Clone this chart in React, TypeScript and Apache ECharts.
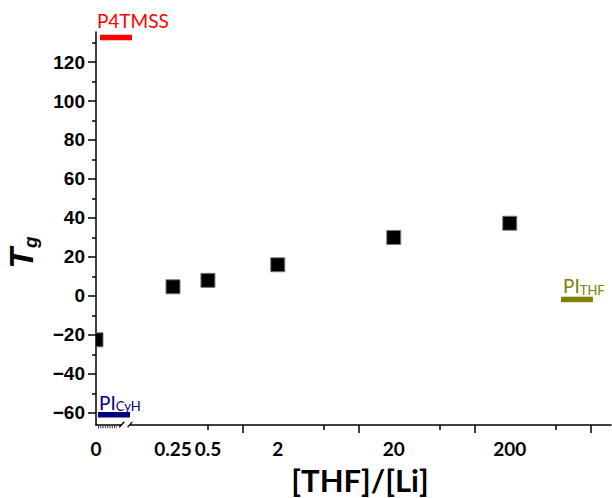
import React, { useEffect, useRef } from "react";
import * as echarts from "echarts";

// ---------------- data ----------------
const ratioLabels = ["0", "0.25", "0.5", "2", "20", "200"];
const ratioValues = [0, 0.25, 0.5, 2, 20, 200];
const tgValues = [-22.5, 4.7, 8, 16, 30, 37.3];

const xMajorTickRatios = [1, 10, 100, 1000];
const xMinorTickRatios = [0.5, 5, 50, 500];

const yMajorTicks = [-60, -40, -20, 0, 20, 40, 60, 80, 100, 120];
const yMinorTicks = [-50, -30, -10, 10, 30, 50, 70, 90, 110, 130];

// reference polymers (Tg of homopolymers)
const refNames = ["P4TMSS", "PI", "PI"];
const refSubs = ["", "CyH", "THF"];
const refTg = [132.6, -61, -1.8];

// ---------------- layout ----------------
const X_MIN = -1.266; // log10 position of the broken "0" origin
const X_MAX = 3.174;
const Y_MIN = -66.2;
const Y_MAX = 135.4;
const refSpanStart = [-1.232, -1.249, 2.743];
const refSpanEnd = [-0.956, -0.973, 3.018];
const refColors = ["#ff0000", "#000080", "#808000"];

const toPos = (v: number) => (v === 0 ? X_MIN : Math.log10(v));

export default function App() {
  const ref = useRef<HTMLDivElement>(null);

  useEffect(() => {
    if (!ref.current) return;
    const chart = echarts.init(ref.current, undefined, { renderer: "svg" });

    const labelPos = ratioValues.map(toPos);
    const majorPos = xMajorTickRatios.map(toPos);
    const minorPos = xMinorTickRatios.map(toPos);

    const pointData = ratioValues.map((v, i) => [toPos(v), tgValues[i]]);

    const refSeries = refNames.map((name, i) => ({
      type: "custom",
      coordinateSystem: "cartesian2d",
      clip: false,
      z: 3,
      data: [[refSpanStart[i], refSpanEnd[i], refTg[i]]],
      renderItem: (_p: any, api: any) => {
        const p1 = api.coord([api.value(0), api.value(2)]);
        const p2 = api.coord([api.value(1), api.value(2)]);
        const sub = refSubs[i];
        const text = sub ? `{a|${name}}{b|${sub}}` : `{c|${name}}`;
        const dx = i === 0 ? -3 : i === 1 ? 1 : 2;
        const dy = i === 0 ? -7 : i === 1 ? -2 : -3;
        return {
          type: "group",
          children: [
            {
              type: "line",
              shape: { x1: p1[0], y1: p1[1], x2: p2[0], y2: p2[1] },
              style: { stroke: refColors[i], lineWidth: 5.5 },
            },
            {
              type: "text",
              x: p1[0] + dx,
              y: p1[1] + dy,
              style: {
                text,
                fill: refColors[i],
                align: "left",
                textAlign: "left",
                verticalAlign: "bottom",
                textVerticalAlign: "bottom",
                fontFamily: "Lato",
                rich: {
                  a: { fontSize: 19, lineHeight: 20, verticalAlign: "top", fill: refColors[i], fontFamily: "Lato" },
                  b: { fontSize: 13, lineHeight: 13, verticalAlign: "bottom", padding: [11, 0, 0, 0], fill: refColors[i], fontFamily: "Lato" },
                  c: { fontSize: 19, lineHeight: 20, fill: refColors[i], fontFamily: "Lato" },
                },
              },
            },
          ],
        };
      },
    }));

    const option: any = {
      animation: false,
      grid: { left: 96, right: 1, top: 32, bottom: 73, containLabel: false, outerBoundsMode: "none" },
      xAxis: [
        {
          type: "value",
          min: X_MIN,
          max: X_MAX,
          position: "bottom",
          axisLine: { show: true, onZero: false, lineStyle: { color: "#000", width: 1.5 } },
          axisTick: { show: true, customValues: majorPos, length: 8, lineStyle: { color: "#000", width: 1.5 } },
          axisLabel: {
            customValues: labelPos,
            showMinLabel: true,
            showMaxLabel: true,
            margin: 14,
            fontFamily: "Lato",
            fontWeight: "bold",
            fontSize: 19,
            color: "#000",
            formatter: (v: number) => {
              const i = labelPos.findIndex((p) => Math.abs(p - v) < 1e-6);
              return i >= 0 ? ratioLabels[i] : "";
            },
          },
          splitLine: { show: false },
          name: "[THF]/[Li]",
          nameLocation: "middle",
          nameGap: 39,
          nameTextStyle: {
            fontFamily: "Lato",
            fontWeight: "bold",
            fontSize: 31,
            color: "#000",
            padding: [0, 0, 0, 13],
          },
        },
        {
          type: "value",
          min: X_MIN,
          max: X_MAX,
          position: "bottom",
          axisLine: { show: false, onZero: false },
          axisTick: { show: true, customValues: minorPos, length: 5, lineStyle: { color: "#000", width: 1.5 } },
          axisLabel: { show: false },
          splitLine: { show: false },
        },
      ],
      yAxis: [
        {
          type: "value",
          min: Y_MIN,
          max: Y_MAX,
          position: "left",
          axisLine: { show: true, onZero: false, lineStyle: { color: "#000", width: 1.5 } },
          axisTick: { show: true, customValues: yMajorTicks, length: 8, lineStyle: { color: "#000", width: 1.5 } },
          axisLabel: {
            customValues: yMajorTicks,
            margin: 11,
            fontFamily: "Liberation Sans",
            fontWeight: "bold",
            fontSize: 19,
            color: "#000",
            formatter: (v: number) => String(v).replace("-", "\u2212"),
          },
          splitLine: { show: false },
          name: "{t|T}{g|g}",
          nameLocation: "middle",
          nameRotate: 90,
          nameGap: 56,
          nameTextStyle: {
            padding: [0, 48, 0, 0],
            rich: {
              t: { fontFamily: "Liberation Sans", fontWeight: "bold", fontStyle: "italic", fontSize: 34, lineHeight: 36, verticalAlign: "top", color: "#000" },
              g: { fontFamily: "Liberation Sans", fontWeight: "bold", fontStyle: "italic", fontSize: 19, lineHeight: 19, verticalAlign: "bottom", padding: [19, 0, 0, 0], color: "#000" },
            },
          },
        },
        {
          type: "value",
          min: Y_MIN,
          max: Y_MAX,
          position: "left",
          axisLine: { show: false, onZero: false },
          axisTick: { show: true, customValues: yMinorTicks, length: 4, lineStyle: { color: "#000", width: 1.5 } },
          axisLabel: { show: false },
          splitLine: { show: false },
        },
      ],
      series: [
        {
          type: "custom",
          name: "Tg",
          coordinateSystem: "cartesian2d",
          clip: true,
          z: 4,
          data: pointData,
          renderItem: (_p: any, api: any) => {
            const c = api.coord([api.value(0), api.value(1)]);
            return {
              type: "rect",
              shape: { x: c[0] - 7, y: c[1] - 7, width: 14, height: 14 },
              style: { fill: "#000", stroke: "#777", lineWidth: 1 },
            };
          },
        },
        ...refSeries,
        {
          type: "custom",
          coordinateSystem: "cartesian2d",
          clip: false,
          z: 5,
          data: [[X_MIN, Y_MIN]],
          renderItem: (_p: any, api: any) => {
            const o = api.coord([api.value(0), api.value(1)]);
            const ox = o[0];
            const oy = o[1];
            return {
              type: "group",
              children: [
                { type: "rect", shape: { x: ox + 25.3, y: oy - 2, width: 8.3, height: 4 }, style: { fill: "#fff" } },
                { type: "line", shape: { x1: ox + 23.3, y1: oy + 2.2, x2: ox + 28.3, y2: oy - 3.2 }, style: { stroke: "#000", lineWidth: 1.3 } },
                { type: "line", shape: { x1: ox + 31.7, y1: oy + 2.2, x2: ox + 36.3, y2: oy - 3.2 }, style: { stroke: "#000", lineWidth: 1.3 } },
                { type: "line", shape: { x1: ox + 2, y1: oy + 2, x2: ox + 21, y2: oy + 2 }, style: { stroke: "#333", lineWidth: 2.5, lineDash: [1, 1.3] } },
              ],
            };
          },
        },
      ],
    };

    chart.setOption(option);
    return () => chart.dispose();
  }, []);

  return (
    <div
      ref={ref}
      style={{ position: "fixed", left: 0, top: 0, width: 612, height: 498, background: "#fff" }}
    />
  );
}
